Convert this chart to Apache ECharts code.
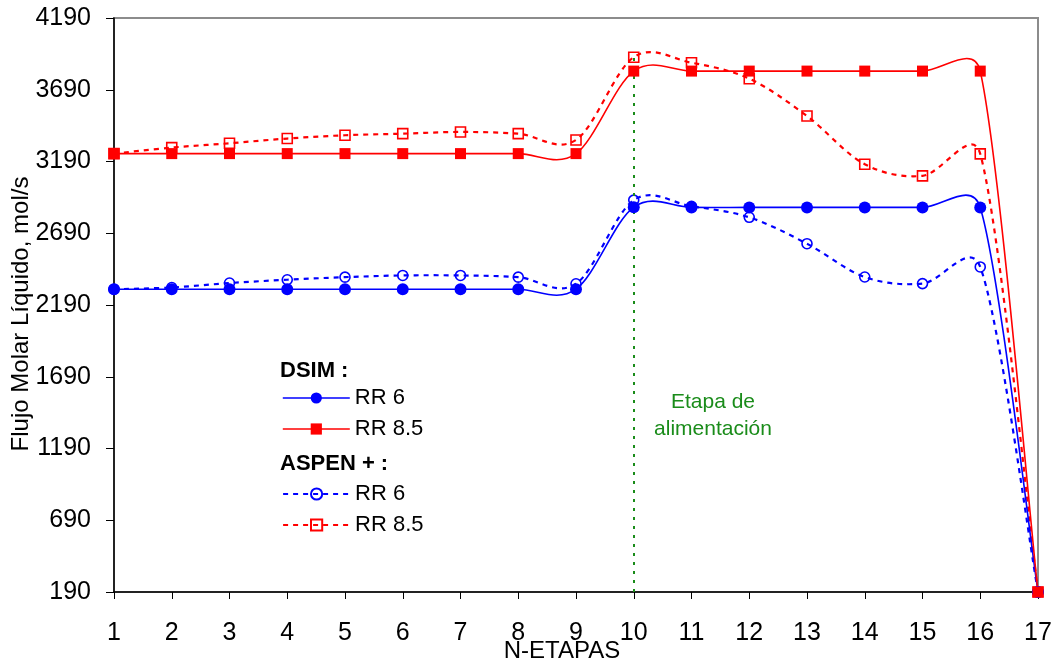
<!DOCTYPE html>
<html>
<head>
<meta charset="utf-8">
<script src="https://cdn.jsdelivr.net/npm/echarts@6/dist/echarts.min.js"></script>
<style>
  html, body { margin: 0; padding: 0; background: #ffffff; }
  #chart { width: 1058px; height: 667px; }
</style>
</head>
<body>
<div id="chart"></div>
<script>
// Stages of the column (x axis)
const stages = [1, 2, 3, 4, 5, 6, 7, 8, 9, 10, 11, 12, 13, 14, 15, 16, 17];

// Liquid molar flow per stage, mol/s
const dsimRR6   = [2300, 2300, 2300, 2300, 2300, 2300, 2300, 2300, 2300, 2872, 2870, 2870, 2870, 2870, 2870, 2870, 190];
const dsimRR85  = [3245, 3245, 3245, 3245, 3245, 3245, 3245, 3245, 3245, 3820, 3820, 3820, 3820, 3820, 3820, 3820, 190];
const aspenRR6  = [2300, 2312, 2343, 2366, 2384, 2396, 2396, 2384, 2338, 2921, 2878, 2801, 2617, 2385, 2339, 2455, 190];
const aspenRR85 = [3245, 3287, 3317, 3350, 3373, 3384, 3396, 3384, 3340, 3917, 3878, 3767, 3507, 3171, 3090, 3243, 190];

// Axis ticks
const yMin = 190, yMax = 4190, yStep = 500;
const feedStage = 10;
const feedLineTop = 3940;

const FONT = '"Liberation Sans", Arial, sans-serif';
const BLUE = '#0000ff';
const RED = '#ff0000';
const GREEN = '#1a8c1a';

const pairs = vals => stages.map((s, i) => [s, vals[i]]);

// Control point offset for one end of a segment: tangent/6, but never longer
// than half of the segment itself (keeps the curve from bulging at steep drops).
function ctrl(from, prev, next, segLen, sign) {
  const tx = next[0] - prev[0], ty = next[1] - prev[1];
  const tl = Math.hypot(tx, ty);
  let f = 1 / 6;
  if (tl > 0 && tl / 6 > segLen / 2) f = segLen / (2 * tl);
  return [from[0] + sign * tx * f, from[1] + sign * ty * f];
}

// Smoothed curve through all points of a series, positioned through the
// chart's own coordinate system.
function curveSeries(vals, color, width, dash, z) {
  return {
    type: 'custom',
    data: pairs(vals),
    encode: { x: 0, y: 1 },
    silent: true,
    z: z,
    renderItem: function (params, api) {
      if (params.dataIndexInside !== 0) return null;
      const n = params.dataInsideLength;
      const p = [];
      for (let j = 0; j < n; j++) p.push(api.coord([api.value(0, j), api.value(1, j)]));
      let d = 'M' + p[0][0] + ' ' + p[0][1];
      for (let i = 0; i < n - 1; i++) {
        const p0 = p[Math.max(i - 1, 0)], p1 = p[i], p2 = p[i + 1], p3 = p[Math.min(i + 2, n - 1)];
        const seg = Math.hypot(p2[0] - p1[0], p2[1] - p1[1]);
        const c1 = ctrl(p1, p0, p2, seg, 1);
        const c2 = ctrl(p2, p1, p3, seg, -1);
        d += ' C' + c1[0] + ' ' + c1[1] + ' ' + c2[0] + ' ' + c2[1] + ' ' + p2[0] + ' ' + p2[1];
      }
      return {
        type: 'path',
        shape: { pathData: d },
        style: { fill: 'none', stroke: color, lineWidth: width, lineDash: dash }
      };
    }
  };
}

// Markers of a series; its line is drawn by the matching curve series
function markerSeries(name, vals, color, symbol, size, filled, lineType, z) {
  return {
    name: name, type: 'line', data: pairs(vals),
    symbol: symbol, symbolSize: size, showSymbol: true,
    lineStyle: { color: color, width: 2, type: lineType, opacity: 0 },
    itemStyle: filled ? { color: color }
                      : { color: 'rgba(255,255,255,0)', borderColor: color, borderWidth: 1.6 },
    z: z
  };
}

const chart = echarts.init(document.getElementById('chart'), null, { renderer: 'canvas' });

const legendBase = {
  orient: 'vertical',
  left: 282,
  padding: 0,
  itemWidth: 67,
  itemHeight: 14,
  itemGap: 9,
  textStyle: { fontFamily: FONT, fontSize: 22, color: '#000', lineHeight: 22 },
  formatter: name => name.replace(/^(DSIM|ASPEN) /, ''),
  selectedMode: false
};

chart.setOption({
  animation: false,
  backgroundColor: '#ffffff',
  grid: {
    left: 114, right: 20, top: 18, bottom: 75,
    show: true, borderColor: '#8c8c8c', borderWidth: 2, backgroundColor: 'transparent'
  },
  xAxis: {
    type: 'value',
    min: 1, max: 17, interval: 1,
    axisLine: { lineStyle: { color: '#000', width: 1.5 } },
    axisTick: { show: true, inside: false, length: 7, lineStyle: { color: '#000', width: 1 } },
    axisLabel: { fontFamily: FONT, fontSize: 25, color: '#000', margin: 29 },
    splitLine: { show: false }
  },
  yAxis: {
    type: 'value',
    min: yMin, max: yMax, interval: yStep,
    axisLine: { show: true, lineStyle: { color: '#000', width: 1.5 } },
    axisTick: { show: true, inside: false, length: 8, lineStyle: { color: '#000', width: 1 } },
    axisLabel: { fontFamily: FONT, fontSize: 25, color: '#000', margin: 23, formatter: v => String(v) },
    splitLine: { show: false }
  },
  legend: [
    Object.assign({}, legendBase, { top: 387, data: [
      { name: 'DSIM RR 6', lineStyle: { width: 1.6, opacity: 1, color: BLUE } },
      { name: 'DSIM RR 8.5', lineStyle: { width: 1.6, opacity: 1, color: RED } }
    ] }),
    Object.assign({}, legendBase, { top: 483, data: [
      { name: 'ASPEN RR 6', lineStyle: { width: 2.2, opacity: 1, color: BLUE } },
      { name: 'ASPEN RR 8.5', lineStyle: { width: 2.2, opacity: 1, color: RED } }
    ] })
  ],
  graphic: [
    { type: 'text', left: 280, top: 360, style: { text: 'DSIM :', font: 'bold 22px ' + FONT, fill: '#000' } },
    { type: 'text', left: 280, top: 453, style: { text: 'ASPEN + :', font: 'bold 22px ' + FONT, fill: '#000' } },
    { type: 'text', x: 713, y: 416, style: { text: 'Etapa de\nalimentación', font: '21px ' + FONT, fill: GREEN,
      align: 'center', verticalAlign: 'middle', lineHeight: 27 } },
    { type: 'text', x: 562, y: 651, style: { text: 'N-ETAPAS', font: '24px ' + FONT, fill: '#000',
      align: 'center', verticalAlign: 'middle' } },
    { type: 'text', x: 21, y: 314, rotation: Math.PI / 2, style: { text: 'Flujo Molar Líquido, mol/s',
      font: '24px ' + FONT, fill: '#000', align: 'center', verticalAlign: 'middle' } }
  ],
  series: [
    curveSeries(aspenRR6, BLUE, 2.2, [5, 5], 2),
    curveSeries(aspenRR85, RED, 2.2, [5, 5], 2),
    curveSeries(dsimRR6, BLUE, 1.6, null, 3),
    curveSeries(dsimRR85, RED, 1.6, null, 3),
    markerSeries('ASPEN RR 6', aspenRR6, BLUE, 'circle', 10, false, [5, 5], 4),
    markerSeries('ASPEN RR 8.5', aspenRR85, RED, 'rect', 10, false, [5, 5], 4),
    Object.assign(markerSeries('DSIM RR 6', dsimRR6, BLUE, 'circle', 12, true, 'solid', 5), {
      markLine: {
        silent: true, symbol: 'none', animation: false,
        label: { show: false },
        lineStyle: { color: GREEN, width: 2, type: [3, 6], opacity: 1 },
        data: [[{ coord: [feedStage, yMin] }, { coord: [feedStage, feedLineTop] }]]
      }
    }),
    markerSeries('DSIM RR 8.5', dsimRR85, RED, 'rect', 11, true, 'solid', 5)
  ]
});
</script>
</body>
</html>
